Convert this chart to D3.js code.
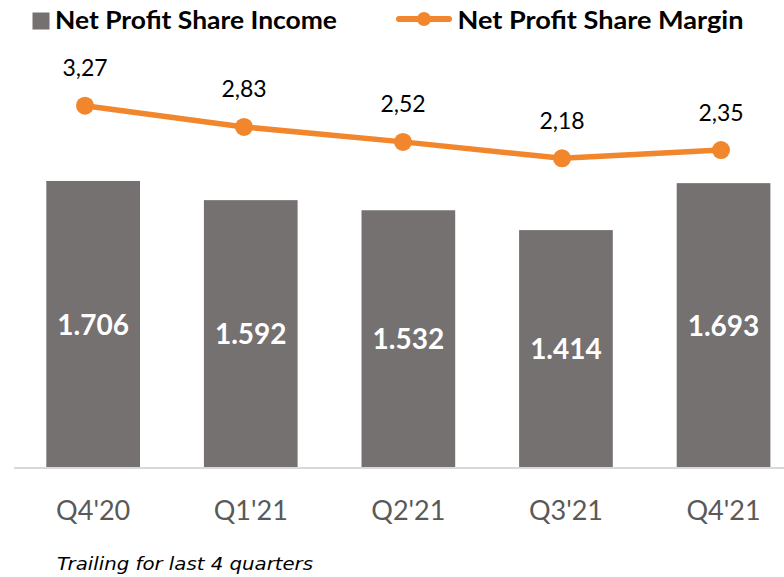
<!DOCTYPE html>
<html>
<head>
<meta charset="utf-8">
<script src="https://cdn.jsdelivr.net/npm/d3@7"></script>
<style>
	body { margin: 0; background: #fff; }
	svg { display: block; }
</style>
</head>
<body>
<svg id="chart" width="784" height="577"></svg>
<script>
// data
var quarters = ["Q4'20", "Q1'21", "Q2'21", "Q3'21", "Q4'21"];
var shareIncome = [1706, 1592, 1532, 1414, 1693];
var shareMargin = [3.27, 2.83, 2.52, 2.18, 2.35];
var legendLabels = ["Net Profit Share Income", "Net Profit Share Margin"];
var footnote = "Trailing for last 4 quarters";

var barColor = "#767171";
var lineColor = "#f2862c";

// turkish style numbers: 1.706 and 3,27
var locale = d3.formatLocale({decimal: ",", thousands: ".", grouping: [3], currency: ["", ""]});
var fmtInt = locale.format(",d");
var fmtDec = locale.format(".2f");

var svg = d3.select("#chart");

var x = d3.scaleBand()
	.domain(quarters)
	.range([14.35, 802.35])
	.paddingInner(0.4055)
	.paddingOuter(0.4055 / 2);

// the line sits on a secondary plot area, slightly shifted
var xLine = d3.scalePoint()
	.domain(quarters)
	.range([85, 721]);

var y = d3.scaleLinear()
	.domain([0, 2000])
	.range([468, 131.5]);

var yLine = d3.scaleLinear()
	.domain([0, 4])
	.range([263.5, 70.46]);

// bars
svg.append("g")
	.selectAll("rect")
	.data(shareIncome)
	.join("rect")
		.attr("x", function(d, i) { return x(quarters[i]); })
		.attr("y", function(d) { return y(d); })
		.attr("width", x.bandwidth())
		.attr("height", function(d) { return y(0) - y(d); })
		.attr("fill", barColor);

// bar labels, centred in each bar
svg.append("g")
	.selectAll("text")
	.data(shareIncome)
	.join("text")
		.attr("x", function(d, i) { return x(quarters[i]) + x.bandwidth() / 2; })
		.attr("y", function(d) { return (y(d) + y(0)) / 2; })
		.attr("dy", "0.36em")
		.attr("text-anchor", "middle")
		.attr("font-family", "Lato, sans-serif")
		.attr("font-weight", "bold")
		.attr("font-size", 28)
		.attr("fill", "#fff")
		.text(function(d) { return fmtInt(d); });

// x axis
var xAxis = svg.append("g")
	.attr("transform", "translate(0,468)")
	.call(d3.axisBottom(x).tickSize(0).tickPadding(0));
xAxis.select(".domain")
	.attr("d", "M14,0H784")
	.attr("stroke", "#d9d9d9")
	.attr("stroke-width", 2);
xAxis.selectAll(".tick text")
	.attr("y", 52)
	.attr("dy", 0)
	.attr("font-family", "Lato, sans-serif")
	.attr("font-size", 27)
	.attr("fill", "#595959");

// margin line
var line = d3.line()
	.x(function(d, i) { return xLine(quarters[i]); })
	.y(function(d) { return yLine(d); });

svg.append("path")
	.datum(shareMargin)
	.attr("d", line)
	.attr("fill", "none")
	.attr("stroke", lineColor)
	.attr("stroke-width", 5.5)
	.attr("stroke-linejoin", "round");

svg.append("g")
	.selectAll("circle")
	.data(shareMargin)
	.join("circle")
		.attr("cx", function(d, i) { return xLine(quarters[i]); })
		.attr("cy", function(d) { return yLine(d); })
		.attr("r", 9)
		.attr("fill", lineColor);

svg.append("g")
	.selectAll("text")
	.data(shareMargin)
	.join("text")
		.attr("x", function(d, i) { return xLine(quarters[i]); })
		.attr("y", function(d) { return yLine(d) - 29.5; })
		.attr("text-anchor", "middle")
		.attr("font-family", "Lato, sans-serif")
		.attr("font-size", 23)
		.attr("fill", "#000")
		.text(function(d) { return fmtDec(d); });

// legend
var legend = svg.append("g");
legend.append("rect")
	.attr("x", 32.5)
	.attr("y", 12.5)
	.attr("width", 17)
	.attr("height", 17)
	.attr("fill", barColor);
legend.append("text")
	.attr("x", 55)
	.attr("y", 29.3)
	.attr("font-family", "Lato, sans-serif")
	.attr("font-weight", "bold")
	.attr("font-size", 25)
	.attr("textLength", 282)
	.attr("lengthAdjust", "spacingAndGlyphs")
	.text(legendLabels[0]);

legend.append("line")
	.attr("x1", 399)
	.attr("x2", 449)
	.attr("y1", 19)
	.attr("y2", 19)
	.attr("stroke", lineColor)
	.attr("stroke-width", 6)
	.attr("stroke-linecap", "round");
legend.append("circle")
	.attr("cx", 424)
	.attr("cy", 19)
	.attr("r", 7)
	.attr("fill", lineColor);
legend.append("text")
	.attr("x", 457.5)
	.attr("y", 29.3)
	.attr("font-family", "Lato, sans-serif")
	.attr("font-weight", "bold")
	.attr("font-size", 25)
	.attr("textLength", 286)
	.attr("lengthAdjust", "spacingAndGlyphs")
	.text(legendLabels[1]);

// footnote
svg.append("text")
	.attr("x", 57)
	.attr("y", 570)
	.attr("font-family", "'DejaVu Sans', sans-serif")
	.attr("font-style", "italic")
	.attr("font-size", 17.5)
	.attr("textLength", 256)
	.attr("lengthAdjust", "spacingAndGlyphs")
	.attr("fill", "#000")
	.text(footnote);
</script>
</body>
</html>
